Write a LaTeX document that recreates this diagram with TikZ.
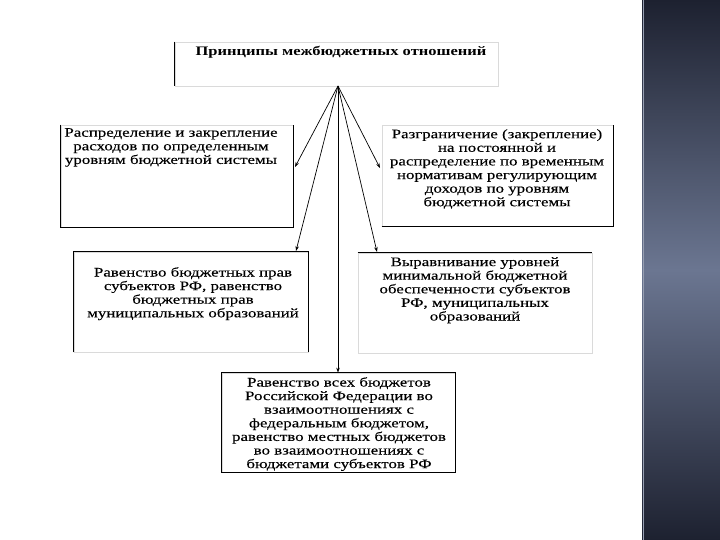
\documentclass[tikz,border=0pt]{standalone}
\usepackage{fontspec}
\setmainfont{Liberation Serif}[FakeStretch=1.3,FakeBold=0.2]
\newfontfamily\titlefont{Liberation Serif Bold}[FakeStretch=1.27]
\usetikzlibrary{arrows.meta}
\definecolor{paneltop}{HTML}{1D2130}
\definecolor{panelmid}{HTML}{6B7691}
\definecolor{faint}{HTML}{DADADA}
\tikzset{
  boxframe/.style={draw=faint, line width=0.8pt, inner sep=0pt},
  darkside/.style={draw=black, line width=0.9pt},
  boxtext/.style={align=center, anchor=north, inner sep=0pt,
    font=\fontsize{13}{13.6}\selectfont},
  link/.style={draw=black, line width=0.7pt, -{Stealth[length=5pt,width=3.5pt]}}
}
\begin{document}
\begin{tikzpicture}[x=1pt,y=-1pt]
\useasboundingbox (0,0) rectangle (720,540);
\fill[white] (0,0) rectangle (720,540);
% side panel
\shade[top color=paneltop, bottom color=panelmid] (642,0) rectangle (720,270);
\shade[top color=panelmid, bottom color=paneltop] (642,270) rectangle (720,540);
\draw[line width=1.2pt, draw=panelmid!70!white] (643.5,0) -- (643.5,540);

% boxes
\node[boxframe, minimum width=323, minimum height=44] (top) at (336.5,64) {};
\draw[darkside] (top.north west) -- (top.south west);
\node[boxtext, font=\titlefont\fontsize{13}{13.6}\selectfont] (ttop) at (341,46) {Принципы межбюджетных отношений};

\node[boxframe, minimum width=232, minimum height=102] (b1) at (177,176) {};
\draw[darkside] (b1.north west) -- (b1.south west) -- (b1.south east) -- (b1.north east);
\node[boxtext] (t1) at (171,128) {Распределение и закрепление\\расходов по определенным\\уровням бюджетной системы};

\node[boxframe, minimum width=231, minimum height=101] (b2) at (497.5,175.5) {};
\draw[darkside] (b2.south west) -- (b2.south east) -- (b2.north east);
\node[boxtext] (t2) at (497,129) {Разграничение (закрепление)\\на постоянной и\\распределение по временным\\нормативам регулирующим\\доходов по уровням\\бюджетной системы};

\node[boxframe, minimum width=234, minimum height=100] (b3) at (191,302) {};
\draw[darkside] (b3.south west) -- (b3.north west) -- (b3.north east) -- (b3.south east);
\node[boxtext] (t3) at (193,267) {Равенство бюджетных прав\\субъектов РФ, равенство\\бюджетных прав\\муниципальных образований};

\node[boxframe, minimum width=234, minimum height=100] (b4) at (475,303) {};
\draw[darkside] (b4.north west) -- (b4.north east);
\node[boxtext] (t4) at (475,257) {Выравнивание уровней\\минимальной бюджетной\\обеспеченности субъектов\\РФ, муниципальных\\образований};

\node[boxframe, minimum width=233, minimum height=99] (b5) at (338.5,422.5) {};
\draw[darkside] (b5.north west) rectangle (b5.south east);
\node[boxtext] (t5) at (339,377) {Равенство всех бюджетов\\Российской Федерации во\\взаимоотношениях с\\федеральным бюджетом,\\равенство местных бюджетов\\во взаимоотношениях с\\бюджетами субъектов РФ};

% connectors
\coordinate (apex) at (338,86);
\coordinate (e1) at (295,167);
\coordinate (e2) at (380,168);
\coordinate (e3) at (296,251);
\coordinate (e4) at (377,252);
\draw[link] (apex) -- (e1);
\draw[link] (apex) -- (e2);
\draw[link] (apex) -- (e3);
\draw[link] (apex) -- (e4);
\draw[link] (apex) -- (apex |- b5.north);
\end{tikzpicture}
\end{document}
